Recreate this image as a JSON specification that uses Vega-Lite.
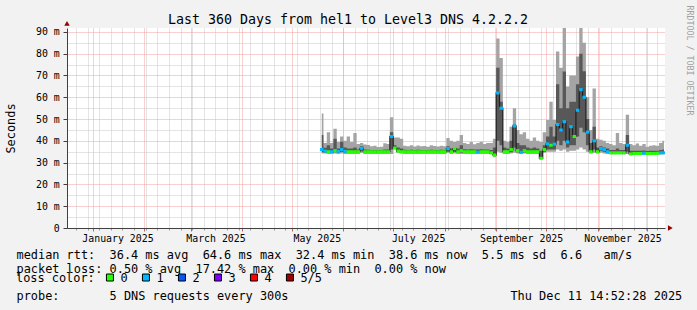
{
  "$schema": "https://vega.github.io/schema/vega-lite/v6.json",
  "width": 598,
  "height": 200,
  "autosize": {"type": "none"},
  "padding": {"left": 67, "top": 28, "right": 32, "bottom": 82},
  "background": "#f2f2f2",
  "title": {
    "text": "Last 360 Days from hel1 to Level3 DNS 4.2.2.2",
    "font": "DejaVu Sans Mono",
    "fontSize": 13.3,
    "fontWeight": "normal",
    "color": "black",
    "anchor": "middle",
    "frame": "group",
    "dx": -18,
    "dy": 26,
    "offset": 5
  },
  "config": {
    "view": {"fill": "white", "stroke": null},
    "axis": {
      "labelFont": "DejaVu Sans Mono",
      "titleFont": "DejaVu Sans Mono",
      "titleFontWeight": "normal",
      "labelColor": "black",
      "titleColor": "black"
    }
  },
  "resolve": {"axis": {"x": "independent", "y": "independent"}},
  "datasets": {
    "smoke": [
      {"t": "2025-05-19T00:00:00", "lo": 34.2, "l2": 34.8, "m": 36.0, "h2": 42.7, "hi": 52.5, "loss": "1"},
      {"t": "2025-05-21T00:00:00", "lo": 34.2, "l2": 34.6, "m": 35.3, "h2": 36.8, "hi": 39.0, "loss": "1"},
      {"t": "2025-05-23T00:00:00", "lo": 34.0, "l2": 34.5, "m": 35.0, "h2": 38.0, "hi": 44.0, "loss": "0"},
      {"t": "2025-05-25T00:00:00", "lo": 34.0, "l2": 34.5, "m": 35.0, "h2": 36.5, "hi": 39.0, "loss": "1"},
      {"t": "2025-05-27T00:00:00", "lo": 34.2, "l2": 34.8, "m": 35.5, "h2": 41.0, "hi": 45.5, "loss": "0"},
      {"t": "2025-05-29T00:00:00", "lo": 34.0, "l2": 34.5, "m": 35.2, "h2": 36.5, "hi": 39.5, "loss": "1"},
      {"t": "2025-05-31T00:00:00", "lo": 34.2, "l2": 35.0, "m": 36.0, "h2": 39.6, "hi": 42.0, "loss": "1"},
      {"t": "2025-06-02T00:00:00", "lo": 34.0, "l2": 34.5, "m": 35.2, "h2": 37.0, "hi": 40.0, "loss": "1"},
      {"t": "2025-06-04T00:00:00", "lo": 34.0, "l2": 34.5, "m": 35.0, "h2": 36.5, "hi": 42.0, "loss": "0"},
      {"t": "2025-06-06T00:00:00", "lo": 34.0, "l2": 34.5, "m": 35.0, "h2": 36.5, "hi": 39.5, "loss": "0"},
      {"t": "2025-06-08T00:00:00", "lo": 34.0, "l2": 34.5, "m": 35.0, "h2": 37.0, "hi": 43.6, "loss": "0"},
      {"t": "2025-06-10T00:00:00", "lo": 34.0, "l2": 34.5, "m": 35.0, "h2": 36.0, "hi": 38.5, "loss": "0"},
      {"t": "2025-06-12T00:00:00", "lo": 34.5, "l2": 35.2, "m": 36.6, "h2": 37.5, "hi": 39.0, "loss": "1"},
      {"t": "2025-06-14T00:00:00", "lo": 34.0, "l2": 34.5, "m": 35.0, "h2": 36.0, "hi": 38.3, "loss": "0"},
      {"t": "2025-06-16T00:00:00", "lo": 34.0, "l2": 34.5, "m": 35.0, "h2": 35.9, "hi": 38.1, "loss": "0"},
      {"t": "2025-06-18T00:00:00", "lo": 34.0, "l2": 34.5, "m": 35.0, "h2": 35.8, "hi": 37.5, "loss": "0"},
      {"t": "2025-06-20T00:00:00", "lo": 34.0, "l2": 34.5, "m": 35.0, "h2": 35.8, "hi": 37.8, "loss": "0"},
      {"t": "2025-06-22T00:00:00", "lo": 34.0, "l2": 34.5, "m": 35.0, "h2": 35.8, "hi": 37.2, "loss": "0"},
      {"t": "2025-06-24T00:00:00", "lo": 34.0, "l2": 34.5, "m": 35.0, "h2": 35.8, "hi": 37.3, "loss": "0"},
      {"t": "2025-06-26T00:00:00", "lo": 34.0, "l2": 34.5, "m": 35.0, "h2": 36.0, "hi": 38.9, "loss": "0"},
      {"t": "2025-06-28T00:00:00", "lo": 34.0, "l2": 34.5, "m": 35.0, "h2": 36.0, "hi": 38.5, "loss": "0"},
      {"t": "2025-06-30T00:00:00", "lo": 34.0, "l2": 36.0, "m": 42.0, "h2": 44.0, "hi": 50.8, "loss": "1"},
      {"t": "2025-07-02T00:00:00", "lo": 36.3, "l2": 36.5, "m": 36.7, "h2": 38.0, "hi": 41.5, "loss": "0"},
      {"t": "2025-07-04T00:00:00", "lo": 34.5, "l2": 34.9, "m": 35.3, "h2": 37.0, "hi": 41.5, "loss": "0"},
      {"t": "2025-07-06T00:00:00", "lo": 34.2, "l2": 34.6, "m": 35.0, "h2": 36.5, "hi": 41.0, "loss": "0"},
      {"t": "2025-07-08T00:00:00", "lo": 34.0, "l2": 34.5, "m": 35.0, "h2": 35.9, "hi": 37.8, "loss": "0"},
      {"t": "2025-07-10T00:00:00", "lo": 34.0, "l2": 34.5, "m": 35.0, "h2": 35.8, "hi": 37.5, "loss": "0"},
      {"t": "2025-07-12T00:00:00", "lo": 34.0, "l2": 34.5, "m": 35.0, "h2": 35.9, "hi": 38.0, "loss": "0"},
      {"t": "2025-07-14T00:00:00", "lo": 34.0, "l2": 34.5, "m": 35.0, "h2": 35.8, "hi": 37.4, "loss": "0"},
      {"t": "2025-07-16T00:00:00", "lo": 34.0, "l2": 34.5, "m": 35.0, "h2": 35.9, "hi": 37.9, "loss": "0"},
      {"t": "2025-07-18T00:00:00", "lo": 34.0, "l2": 34.5, "m": 35.0, "h2": 35.8, "hi": 37.5, "loss": "0"},
      {"t": "2025-07-20T00:00:00", "lo": 34.0, "l2": 34.5, "m": 35.0, "h2": 35.8, "hi": 37.6, "loss": "0"},
      {"t": "2025-07-22T00:00:00", "lo": 34.0, "l2": 34.5, "m": 35.0, "h2": 35.8, "hi": 37.3, "loss": "0"},
      {"t": "2025-07-24T00:00:00", "lo": 34.0, "l2": 34.5, "m": 35.0, "h2": 35.9, "hi": 38.0, "loss": "0"},
      {"t": "2025-07-26T00:00:00", "lo": 34.0, "l2": 34.5, "m": 35.0, "h2": 35.8, "hi": 37.6, "loss": "0"},
      {"t": "2025-07-28T00:00:00", "lo": 34.0, "l2": 34.5, "m": 35.0, "h2": 35.8, "hi": 37.4, "loss": "0"},
      {"t": "2025-07-30T00:00:00", "lo": 34.0, "l2": 34.5, "m": 35.0, "h2": 35.9, "hi": 37.8, "loss": "0"},
      {"t": "2025-08-01T00:00:00", "lo": 34.0, "l2": 34.5, "m": 35.0, "h2": 35.8, "hi": 37.5, "loss": "0"},
      {"t": "2025-08-03T00:00:00", "lo": 34.5, "l2": 35.0, "m": 36.5, "h2": 37.5, "hi": 41.3, "loss": "1"},
      {"t": "2025-08-05T00:00:00", "lo": 34.0, "l2": 34.5, "m": 35.0, "h2": 36.5, "hi": 40.0, "loss": "0"},
      {"t": "2025-08-07T00:00:00", "lo": 34.2, "l2": 35.0, "m": 36.5, "h2": 37.0, "hi": 39.5, "loss": "0"},
      {"t": "2025-08-09T00:00:00", "lo": 34.0, "l2": 34.5, "m": 35.0, "h2": 36.5, "hi": 40.0, "loss": "0"},
      {"t": "2025-08-11T00:00:00", "lo": 34.0, "l2": 34.6, "m": 35.5, "h2": 38.0, "hi": 42.7, "loss": "0"},
      {"t": "2025-08-13T00:00:00", "lo": 34.0, "l2": 34.5, "m": 35.0, "h2": 36.2, "hi": 39.0, "loss": "0"},
      {"t": "2025-08-15T00:00:00", "lo": 34.0, "l2": 34.5, "m": 35.0, "h2": 36.0, "hi": 38.5, "loss": "0"},
      {"t": "2025-08-17T00:00:00", "lo": 34.0, "l2": 34.5, "m": 35.0, "h2": 36.2, "hi": 39.5, "loss": "0"},
      {"t": "2025-08-19T00:00:00", "lo": 34.0, "l2": 34.5, "m": 35.0, "h2": 36.0, "hi": 38.4, "loss": "0"},
      {"t": "2025-08-21T00:00:00", "lo": 34.0, "l2": 34.5, "m": 34.8, "h2": 36.0, "hi": 39.0, "loss": "1"},
      {"t": "2025-08-23T00:00:00", "lo": 34.0, "l2": 34.5, "m": 35.0, "h2": 36.2, "hi": 39.6, "loss": "0"},
      {"t": "2025-08-25T00:00:00", "lo": 34.0, "l2": 34.5, "m": 35.0, "h2": 36.0, "hi": 38.5, "loss": "0"},
      {"t": "2025-08-27T00:00:00", "lo": 34.0, "l2": 34.5, "m": 35.0, "h2": 36.0, "hi": 39.0, "loss": "0"},
      {"t": "2025-08-29T00:00:00", "lo": 33.8, "l2": 34.2, "m": 34.5, "h2": 35.8, "hi": 39.0, "loss": "0"},
      {"t": "2025-08-31T00:00:00", "lo": 32.5, "l2": 33.0, "m": 33.5, "h2": 37.0, "hi": 41.0, "loss": "0"},
      {"t": "2025-09-02T00:00:00", "lo": 35.0, "l2": 40.0, "m": 62.0, "h2": 73.5, "hi": 87.0, "loss": "1"},
      {"t": "2025-09-04T00:00:00", "lo": 34.5, "l2": 38.0, "m": 55.0, "h2": 58.0, "hi": 78.0, "loss": "1"},
      {"t": "2025-09-06T00:00:00", "lo": 34.0, "l2": 34.6, "m": 35.0, "h2": 37.0, "hi": 40.0, "loss": "0"},
      {"t": "2025-09-08T00:00:00", "lo": 34.0, "l2": 34.6, "m": 35.0, "h2": 36.5, "hi": 39.5, "loss": "0"},
      {"t": "2025-09-10T00:00:00", "lo": 34.2, "l2": 34.8, "m": 36.0, "h2": 40.0, "hi": 46.5, "loss": "0"},
      {"t": "2025-09-12T00:00:00", "lo": 34.5, "l2": 37.0, "m": 46.8, "h2": 47.5, "hi": 55.0, "loss": "1"},
      {"t": "2025-09-14T00:00:00", "lo": 34.2, "l2": 34.8, "m": 35.5, "h2": 39.0, "hi": 45.0, "loss": "0"},
      {"t": "2025-09-16T00:00:00", "lo": 34.0, "l2": 34.5, "m": 34.8, "h2": 38.0, "hi": 43.0, "loss": "1"},
      {"t": "2025-09-18T00:00:00", "lo": 34.2, "l2": 34.8, "m": 35.5, "h2": 38.0, "hi": 44.0, "loss": "0"},
      {"t": "2025-09-20T00:00:00", "lo": 34.0, "l2": 34.5, "m": 35.0, "h2": 37.0, "hi": 41.0, "loss": "0"},
      {"t": "2025-09-22T00:00:00", "lo": 34.0, "l2": 34.5, "m": 35.0, "h2": 36.5, "hi": 40.0, "loss": "0"},
      {"t": "2025-09-24T00:00:00", "lo": 34.0, "l2": 34.5, "m": 35.0, "h2": 37.0, "hi": 41.5, "loss": "0"},
      {"t": "2025-09-26T00:00:00", "lo": 34.0, "l2": 34.5, "m": 35.0, "h2": 36.5, "hi": 40.0, "loss": "0"},
      {"t": "2025-09-28T00:00:00", "lo": 31.5, "l2": 31.8, "m": 32.0, "h2": 35.5, "hi": 39.5, "loss": "0"},
      {"t": "2025-09-30T00:00:00", "lo": 34.5, "l2": 35.0, "m": 36.0, "h2": 38.0, "hi": 44.0, "loss": "0"},
      {"t": "2025-10-02T00:00:00", "lo": 35.0, "l2": 36.0, "m": 38.6, "h2": 42.0, "hi": 49.6, "loss": "1"},
      {"t": "2025-10-04T00:00:00", "lo": 35.0, "l2": 36.0, "m": 38.0, "h2": 46.5, "hi": 58.0, "loss": "0"},
      {"t": "2025-10-06T00:00:00", "lo": 35.0, "l2": 36.0, "m": 38.5, "h2": 42.0, "hi": 49.6, "loss": "1"},
      {"t": "2025-10-08T00:00:00", "lo": 36.0, "l2": 40.0, "m": 47.5, "h2": 66.0, "hi": 81.0, "loss": "1"},
      {"t": "2025-10-10T00:00:00", "lo": 35.5, "l2": 38.0, "m": 45.0, "h2": 55.0, "hi": 73.5, "loss": "1"},
      {"t": "2025-10-12T00:00:00", "lo": 36.0, "l2": 40.0, "m": 48.8, "h2": 71.8, "hi": 92.0, "loss": "1"},
      {"t": "2025-10-14T00:00:00", "lo": 35.0, "l2": 37.0, "m": 39.5, "h2": 55.0, "hi": 65.0, "loss": "1"},
      {"t": "2025-10-16T00:00:00", "lo": 35.5, "l2": 38.0, "m": 46.5, "h2": 58.0, "hi": 70.0, "loss": "1"},
      {"t": "2025-10-18T00:00:00", "lo": 35.5, "l2": 38.0, "m": 42.0, "h2": 58.0, "hi": 70.0, "loss": "0"},
      {"t": "2025-10-20T00:00:00", "lo": 36.0, "l2": 42.0, "m": 54.0, "h2": 66.0, "hi": 78.7, "loss": "1"},
      {"t": "2025-10-22T00:00:00", "lo": 37.0, "l2": 46.0, "m": 63.5, "h2": 80.0, "hi": 93.0, "loss": "1"},
      {"t": "2025-10-24T00:00:00", "lo": 36.0, "l2": 44.0, "m": 60.0, "h2": 72.0, "hi": 85.0, "loss": "1"},
      {"t": "2025-10-26T00:00:00", "lo": 35.0, "l2": 38.0, "m": 44.0, "h2": 50.0, "hi": 60.0, "loss": "1"},
      {"t": "2025-10-28T00:00:00", "lo": 34.2, "l2": 34.6, "m": 35.0, "h2": 39.0, "hi": 45.0, "loss": "0"},
      {"t": "2025-10-30T00:00:00", "lo": 34.5, "l2": 36.0, "m": 40.0, "h2": 46.5, "hi": 64.0, "loss": "1"},
      {"t": "2025-11-01T00:00:00", "lo": 34.2, "l2": 34.6, "m": 35.0, "h2": 37.0, "hi": 41.0, "loss": "0"},
      {"t": "2025-11-03T00:00:00", "lo": 34.5, "l2": 35.5, "m": 36.5, "h2": 37.5, "hi": 40.5, "loss": "1"},
      {"t": "2025-11-05T00:00:00", "lo": 34.2, "l2": 35.0, "m": 36.0, "h2": 37.0, "hi": 40.0, "loss": "1"},
      {"t": "2025-11-07T00:00:00", "lo": 34.0, "l2": 34.5, "m": 35.0, "h2": 36.5, "hi": 39.0, "loss": "1"},
      {"t": "2025-11-09T00:00:00", "lo": 33.8, "l2": 34.2, "m": 34.5, "h2": 35.8, "hi": 38.5, "loss": "0"},
      {"t": "2025-11-11T00:00:00", "lo": 33.8, "l2": 34.2, "m": 34.5, "h2": 35.8, "hi": 38.0, "loss": "0"},
      {"t": "2025-11-13T00:00:00", "lo": 33.8, "l2": 34.2, "m": 34.5, "h2": 36.5, "hi": 43.6, "loss": "0"},
      {"t": "2025-11-15T00:00:00", "lo": 33.8, "l2": 34.2, "m": 34.5, "h2": 35.8, "hi": 39.0, "loss": "0"},
      {"t": "2025-11-17T00:00:00", "lo": 33.8, "l2": 34.2, "m": 34.5, "h2": 35.8, "hi": 38.5, "loss": "0"},
      {"t": "2025-11-19T00:00:00", "lo": 34.0, "l2": 35.0, "m": 38.0, "h2": 42.7, "hi": 52.0, "loss": "1"},
      {"t": "2025-11-21T00:00:00", "lo": 33.6, "l2": 34.0, "m": 34.0, "h2": 35.5, "hi": 38.5, "loss": "0"},
      {"t": "2025-11-23T00:00:00", "lo": 33.6, "l2": 34.0, "m": 34.2, "h2": 35.5, "hi": 38.0, "loss": "0"},
      {"t": "2025-11-25T00:00:00", "lo": 33.6, "l2": 34.0, "m": 34.2, "h2": 35.5, "hi": 38.8, "loss": "0"},
      {"t": "2025-11-27T00:00:00", "lo": 33.6, "l2": 34.0, "m": 34.2, "h2": 35.5, "hi": 37.8, "loss": "0"},
      {"t": "2025-11-29T00:00:00", "lo": 33.6, "l2": 34.0, "m": 34.3, "h2": 35.6, "hi": 38.5, "loss": "1"},
      {"t": "2025-12-01T00:00:00", "lo": 33.6, "l2": 34.0, "m": 34.2, "h2": 35.3, "hi": 37.3, "loss": "0"},
      {"t": "2025-12-03T00:00:00", "lo": 33.6, "l2": 34.0, "m": 34.2, "h2": 35.5, "hi": 37.8, "loss": "0"},
      {"t": "2025-12-05T00:00:00", "lo": 33.6, "l2": 34.0, "m": 34.2, "h2": 35.5, "hi": 38.0, "loss": "0"},
      {"t": "2025-12-07T00:00:00", "lo": 33.6, "l2": 34.0, "m": 34.3, "h2": 35.5, "hi": 37.8, "loss": "0"},
      {"t": "2025-12-09T00:00:00", "lo": 33.7, "l2": 34.1, "m": 34.5, "h2": 35.8, "hi": 39.0, "loss": "1"},
      {"t": "2025-12-11T00:00:00", "lo": 33.8, "l2": 34.2, "m": 34.5, "h2": 36.0, "hi": 40.0, "loss": "1"}
    ],
    "xarrow": [{"t": "2025-12-14T20:00:00", "v": 0}],
    "yarrow": [{"t": "2024-12-16T14:52:28", "v": 93.9}]
  },
  "layer": [
    {
      "data": {"name": "smoke"},
      "mark": {"type": "area", "interpolate": "step", "color": "#a4a4a4", "opacity": 1, "clip": true},
      "encoding": {
        "x": {
          "field": "t", "type": "temporal",
          "scale": {"domain": [{"year": 2024, "month": 12, "date": 16, "hours": 14, "minutes": 52, "seconds": 28}, {"year": 2025, "month": 12, "date": 11, "hours": 14, "minutes": 52, "seconds": 28}]},
          "axis": {"orient": "bottom", "tickCount": {"interval": "week", "step": 1}, "grid": true, "gridColor": "#c8c8c8", "gridDash": [1, 1], "labels": false, "ticks": true, "tickSize": 2, "tickColor": "#999999", "domain": false, "title": null}
        },
        "y": {
          "field": "lo", "type": "quantitative",
          "scale": {"domain": [0, 91.8], "nice": false, "zero": true},
          "axis": {
            "orient": "left",
            "values": [0, 10, 20, 30, 40, 50, 60, 70, 80, 90],
            "grid": true, "gridColor": "#f0a0a0", "gridDash": [1, 1],
            "labelExpr": "datum.value == 0 ? '0\u00a0\u00a0' : datum.value + ' m'",
            "labelFontSize": 9.9,
            "tickSize": 4, "tickColor": "#404040",
            "labelPadding": 3.7,
            "domain": true, "domainColor": "#404040",
            "title": "Seconds",
            "titleFontSize": 11.9,
            "titleX": -53, "titleY": 100,
            "titleAngle": -90, "titleBaseline": "alphabetic", "titleAlign": "center"
          }
        },
        "y2": {"field": "hi"}
      }
    },
    {
      "data": {"name": "smoke"},
      "mark": {"type": "area", "interpolate": "step", "color": "#585858", "opacity": 1, "clip": true},
      "encoding": {
        "x": {
          "field": "t", "type": "temporal",
          "axis": {"orient": "bottom", "tickCount": {"interval": "month", "step": 1}, "grid": true, "gridColor": "#f0a0a0", "gridDash": [1, 1], "labels": false, "ticks": true, "tickSize": 3, "tickColor": "#c06060", "domain": false, "title": null}
        },
        "y": {
          "field": "l2", "type": "quantitative",
          "axis": {"orient": "left", "values": [5, 15, 25, 35, 45, 55, 65, 75, 85], "grid": true, "gridColor": "#c8c8c8", "gridDash": [1, 1], "labels": false, "ticks": false, "domain": false, "title": null}
        },
        "y2": {"field": "h2"}
      }
    },
    {
      "data": {"name": "smoke"},
      "mark": {"type": "line", "interpolate": "step", "color": "#202020", "strokeWidth": 1.2, "clip": true},
      "encoding": {
        "x": {
          "field": "t", "type": "temporal",
          "axis": {
            "orient": "bottom",
            "values": [{"year": 2025, "month": 1, "date": 16}, {"year": 2025, "month": 3, "date": 16}, {"year": 2025, "month": 5, "date": 16}, {"year": 2025, "month": 7, "date": 16}, {"year": 2025, "month": 9, "date": 16}, {"year": 2025, "month": 11, "date": 16}],
            "format": "%B %Y",
            "labelFontSize": 9.9,
            "ticks": false, "tickSize": 0, "grid": false,
            "domain": true, "domainColor": "#404040",
            "labelPadding": 13.5, "labelBaseline": "alphabetic",
            "labelFlush": false, "labelOverlap": false,
            "title": [
              "median rtt:\u00a0\u00a036.4 ms avg\u00a0\u00a064.6 ms max\u00a0\u00a032.4 ms min\u00a0\u00a038.6 ms now\u00a0\u00a05.5 ms sd\u00a0\u00a06.6\u00a0\u00a0\u00a0am/s",
              "packet loss: 0.50 % avg\u00a0\u00a017.42 % max\u00a0\u00a00.00 % min\u00a0\u00a00.00 % now",
              "\u2800",
              "probe:\u00a0\u00a0\u00a0\u00a0\u00a0\u00a0\u00a05 DNS requests every 300s\u00a0\u00a0\u00a0\u00a0\u00a0\u00a0\u00a0\u00a0\u00a0\u00a0\u00a0\u00a0\u00a0\u00a0\u00a0\u00a0\u00a0\u00a0\u00a0\u00a0\u00a0\u00a0\u00a0\u00a0\u00a0\u00a0\u00a0\u00a0\u00a0\u00a0\u00a0Thu Dec 11 14:52:28 2025"
            ],
            "titleFontSize": 11.9,
            "titleAlign": "left", "titleAnchor": "start",
            "titleX": -51, "titleY": 30.5,
            "titleBaseline": "alphabetic", "titleLineHeight": 13.67
          }
        },
        "y": {
          "field": "m", "type": "quantitative",
          "axis": {"orient": "right", "labels": false, "ticks": false, "domain": false, "grid": false, "title": "RRDTOOL / TOBI OETIKER", "titleFontSize": 8.3, "titleColor": "#a0a0a0", "titleAngle": 90, "titleX": 23, "titleY": 32, "titleAlign": "center", "titleBaseline": "middle"}
        }
      }
    },
    {
      "data": {"name": "smoke"},
      "mark": {"type": "tick", "orient": "horizontal", "size": 3.6, "thickness": 3, "opacity": 1, "clip": true},
      "encoding": {
        "x": {"field": "t", "type": "temporal", "axis": null},
        "y": {"field": "m", "type": "quantitative", "axis": null},
        "color": {
          "field": "loss", "type": "nominal",
          "scale": {"domain": ["0", "1", "2", "3", "4", "5/5"], "range": ["#26ff00", "#00b8ff", "#0059ff", "#7e00ff", "#ff0000", "#a10000"]},
          "legend": {
            "orient": "none", "legendX": -51, "legendY": 243.5,
            "direction": "horizontal", "columns": 6,
            "title": "loss color:", "titleOrient": "left",
            "titleFont": "DejaVu Sans Mono", "titleFontSize": 11.9, "titleFontWeight": "normal", "titleColor": "black", "titlePadding": 9,
            "labelFont": "DejaVu Sans Mono", "labelFontSize": 11.9, "labelColor": "black", "labelOffset": 4.5,
            "columnPadding": 12, "padding": 0,
            "symbolType": "square", "symbolSize": 49, "symbolStrokeColor": "black", "symbolStrokeWidth": 1, "symbolOpacity": 1,
            "encode": {"symbols": {"update": {"fill": {"scale": "color", "field": "value"}, "stroke": {"value": "black"}, "strokeWidth": {"value": 1}, "opacity": {"value": 1}}}}
          }
        }
      }
    },
    {
      "data": {"name": "xarrow"},
      "mark": {"type": "point", "shape": "triangle-right", "filled": true, "color": "#990000", "opacity": 1, "size": 30, "clip": false},
      "encoding": {
        "x": {"field": "t", "type": "temporal", "axis": null},
        "y": {"field": "v", "type": "quantitative", "axis": null}
      }
    },
    {
      "data": {"name": "yarrow"},
      "mark": {"type": "point", "shape": "triangle-up", "filled": true, "color": "#990000", "opacity": 1, "size": 30, "clip": false},
      "encoding": {
        "x": {"field": "t", "type": "temporal", "axis": null},
        "y": {"field": "v", "type": "quantitative", "axis": null}
      }
    }
  ]
}
